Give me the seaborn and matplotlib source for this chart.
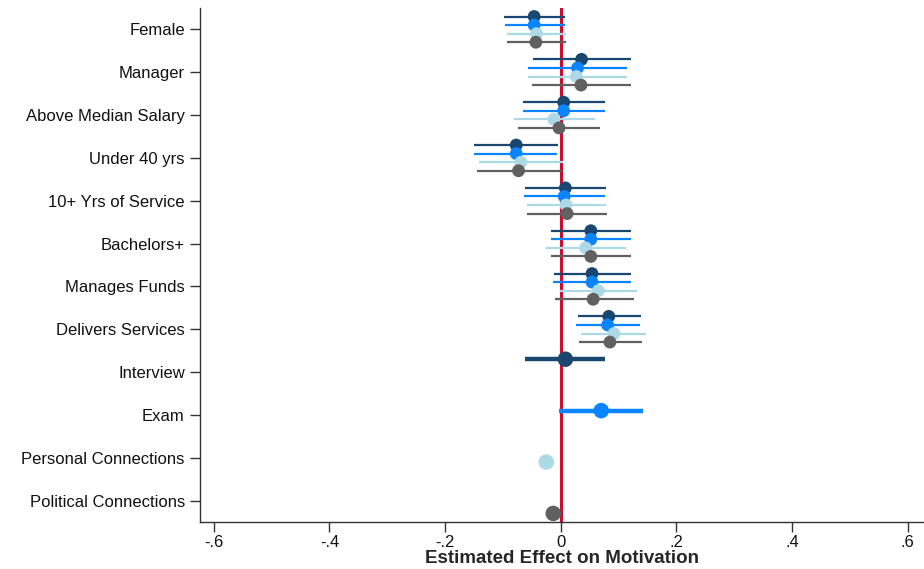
import numpy as np
import pandas as pd
import matplotlib
matplotlib.use("Agg")
import matplotlib.pyplot as plt
import seaborn as sns

categories = ["Female", "Manager", "Above Median Salary", "Under 40 yrs",
              "10+ Yrs of Service", "Bachelors+", "Manages Funds",
              "Delivers Services", "Interview", "Exam",
              "Personal Connections", "Political Connections"]
series = ["Interview", "Exam", "Personal Connections", "Political Connections"]

nan = np.nan
est_interview = [-0.046, 0.036, 0.005, -0.077, 0.008, 0.052, 0.054, 0.083, 0.008, nan, nan, nan]
lo_interview  = [-0.098, -0.048, -0.066, -0.150, -0.061, -0.017, -0.012, 0.029, -0.061, nan, nan, nan]
hi_interview  = [0.007, 0.121, 0.076, -0.004, 0.078, 0.121, 0.121, 0.138, 0.076, nan, nan, nan]

est_exam = [-0.046, 0.029, 0.005, -0.077, 0.006, 0.052, 0.054, 0.081, nan, 0.070, nan, nan]
lo_exam  = [-0.096, -0.057, -0.066, -0.150, -0.063, -0.017, -0.014, 0.026, nan, -0.003, nan, nan]
hi_exam  = [0.007, 0.115, 0.076, -0.006, 0.076, 0.121, 0.121, 0.137, nan, 0.143, nan, nan]

est_personal = [-0.042, 0.027, -0.012, -0.069, 0.009, 0.043, 0.065, 0.092, nan, nan, -0.025, nan]
lo_personal  = [-0.093, -0.057, -0.081, -0.141, -0.059, -0.025, -0.002, 0.035, nan, nan, nan, nan]
hi_personal  = [0.009, 0.115, 0.059, 0.004, 0.078, 0.112, 0.132, 0.147, nan, nan, nan, nan]

est_political = [-0.043, 0.035, -0.003, -0.073, 0.011, 0.052, 0.056, 0.085, nan, nan, nan, -0.013]
lo_political  = [-0.093, -0.050, -0.074, -0.145, -0.059, -0.017, -0.010, 0.031, nan, nan, nan, nan]
hi_political  = [0.009, 0.121, 0.067, 0.000, 0.080, 0.121, 0.126, 0.141, nan, nan, nan, nan]

xticks = [-0.6, -0.4, -0.2, 0, 0.2, 0.4, 0.6]
xticklabels = ["-.6", "-.4", "-.2", "0", ".2", ".4", ".6"]
xlabel = "Estimated Effect on Motivation"

colors = {"Interview": "#1a476f", "Exam": "#0a84ff",
          "Personal Connections": "#add8e6", "Political Connections": "#606060"}
offsets = {"Interview": -0.3, "Exam": -0.1,
           "Personal Connections": 0.1, "Political Connections": 0.3}

rows = []
for s, est, lo, hi in [("Interview", est_interview, lo_interview, hi_interview),
                       ("Exam", est_exam, lo_exam, hi_exam),
                       ("Personal Connections", est_personal, lo_personal, hi_personal),
                       ("Political Connections", est_political, lo_political, hi_political)]:
    for i, c in enumerate(categories):
        rows.append(dict(series=s, category=c, idx=i, est=est[i], lo=lo[i], hi=hi[i],
                         main=(c == s)))
df = pd.DataFrame(rows).dropna(subset=["est"])
df["y"] = df["idx"] + df["series"].map(offsets)

sns.set_style("white")
plt.rcParams["font.family"] = ["Liberation Sans", "DejaVu Sans"]

fig = plt.figure(figsize=(9.24, 5.69), dpi=100)
ax = fig.add_axes([0.2165, 0.0826, 0.7835, 0.9034])

ax.axvline(0, color="#c8102e", lw=2.2, zorder=1)

for _, r in df.dropna(subset=["lo"]).iterrows():
    ax.hlines(r["y"], r["lo"], r["hi"], color=colors[r["series"]],
              lw=3.2 if r["main"] else 1.6, zorder=2)

sub = df[~df["main"]]
sns.scatterplot(data=sub, x="est", y="y", hue="series", palette=colors,
                s=85, edgecolor="none", legend=False, ax=ax, zorder=3)
subm = df[df["main"]]
sns.scatterplot(data=subm, x="est", y="y", hue="series", palette=colors,
                s=125, edgecolor="none", legend=False, ax=ax, zorder=3)

ax.set_xlim(-0.6236, 0.628)
ax.set_ylim(11.5, -0.5)
ax.set_yticks(range(len(categories)))
ax.set_yticklabels(categories, fontsize=12)
ax.set_xticks(xticks)
ax.set_xticklabels(xticklabels, fontsize=12)
ax.set_xlabel(xlabel, fontsize=13.5, fontweight="bold", labelpad=0)
ax.set_ylabel("")

for sp in ["top", "right"]:
    ax.spines[sp].set_visible(False)
for sp in ["left", "bottom"]:
    ax.spines[sp].set_color("#333333")
    ax.spines[sp].set_linewidth(1.0)
ax.tick_params(axis="both", direction="out", length=7, width=1, color="#333333",
               labelcolor="#111111", left=True, bottom=True)
ax.tick_params(axis="y", pad=4)
ax.tick_params(axis="x", pad=2)

fig.savefig("out.png", dpi=100)
